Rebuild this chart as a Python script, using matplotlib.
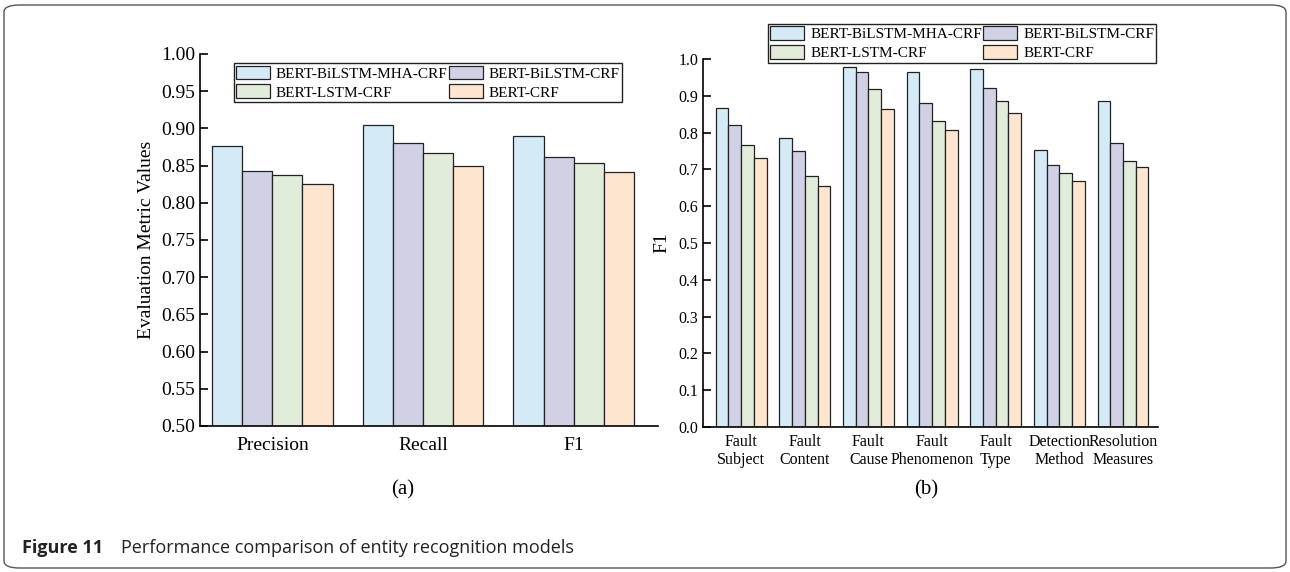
import numpy as np
import matplotlib.pyplot as plt
from matplotlib.patches import FancyBboxPatch

plt.rcParams['font.family'] = ['Liberation Serif', 'DejaVu Serif']

models = ["BERT-BiLSTM-MHA-CRF", "BERT-BiLSTM-CRF", "BERT-LSTM-CRF", "BERT-CRF"]
colors = ["#D4EAF7", "#D1D1E6", "#E1ECDA", "#FDE5CF"]

# (a) overall metrics
metrics = ["Precision", "Recall", "F1"]
mha_a = [0.876, 0.905, 0.890]
bilstm_a = [0.843, 0.881, 0.862]
lstm_a = [0.838, 0.867, 0.853]
crf_a = [0.825, 0.850, 0.842]

# (b) F1 per entity type
entities = ["Fault\nSubject", "Fault\nContent", "Fault\nCause", "Fault\nPhenomenon",
            "Fault\nType", "Detection\nMethod", "Resolution\nMeasures"]
mha_b = [0.866, 0.784, 0.977, 0.965, 0.974, 0.752, 0.887]
bilstm_b = [0.822, 0.749, 0.964, 0.881, 0.920, 0.713, 0.773]
lstm_b = [0.765, 0.682, 0.918, 0.832, 0.887, 0.691, 0.724]
crf_b = [0.732, 0.654, 0.863, 0.807, 0.852, 0.668, 0.706]

fig = plt.figure(figsize=(12.9, 5.72), dpi=100)

# rounded frame around the whole figure
frame = FancyBboxPatch((4 / 1290, 4 / 572), 1282 / 1290, 563 / 572,
                       boxstyle="round,pad=0,rounding_size=0.012",
                       transform=fig.transFigure, fill=False,
                       edgecolor="#555555", linewidth=1.0)
fig.patches.append(frame)


def grouped(ax, cats, series, w=0.2):
    x = np.arange(len(cats))
    bars = []
    for i, (vals, c, name) in enumerate(zip(series, colors, models)):
        b = ax.bar(x + (i - 1.5) * w, vals, w, color=c, edgecolor="#222222",
                   linewidth=0.9, label=name)
        bars.append(b)
    ax.set_xticks(x)
    ax.set_xticklabels(cats)
    ax.spines["top"].set_visible(False)
    ax.spines["right"].set_visible(False)
    ax.spines["left"].set_linewidth(1.2)
    ax.spines["bottom"].set_linewidth(1.2)
    ax.tick_params(axis="y", direction="in", length=6, width=1.2)
    ax.tick_params(axis="x", length=0)
    return bars


def add_legend(ax, bars, anchor):
    # row-wise order: MHA, BiLSTM / LSTM, CRF
    order = [0, 2, 1, 3]
    leg = ax.legend([bars[i] for i in order], [models[i] for i in order],
                    loc="upper left", bbox_to_anchor=anchor, ncol=2, fontsize=11,
                    frameon=True, fancybox=False, edgecolor="#222222", framealpha=1,
                    handlelength=2.2, handleheight=1.0, handletextpad=0.4,
                    columnspacing=0.1, labelspacing=0.25, borderpad=0.15,
                    borderaxespad=0)
    leg.get_frame().set_linewidth(1.0)


# left panel
ax1 = fig.add_axes([200 / 1290, 1 - 426 / 572, 458 / 1290, 372 / 572])
bars1 = grouped(ax1, metrics, [mha_a, bilstm_a, lstm_a, crf_a])
ax1.set_ylim(0.5, 1.0)
ax1.set_xlim(-0.48, 2.56)
ax1.set_yticks(np.arange(0.5, 1.001, 0.05))
ax1.set_yticklabels([f"{v:.2f}" for v in np.arange(0.5, 1.001, 0.05)])
ax1.tick_params(axis="y", labelsize=14)
ax1.tick_params(axis="x", labelsize=14, pad=8)
ax1.set_ylabel("Evaluation Metric Values", fontsize=14, labelpad=4)
add_legend(ax1, bars1, (0.074, 0.975))

# right panel
ax2 = fig.add_axes([703 / 1290, 1 - 427 / 572, 455 / 1290, 368 / 572])
bars2 = grouped(ax2, entities, [mha_b, bilstm_b, lstm_b, crf_b])
ax2.set_ylim(0, 1.0)
ax2.set_xlim(-0.6, 6.55)
ax2.set_yticks(np.arange(0, 1.01, 0.1))
ax2.set_yticklabels([f"{v:.1f}" for v in np.arange(0, 1.01, 0.1)])
ax2.tick_params(axis="y", labelsize=11.5)
ax2.tick_params(axis="x", labelsize=11.5, pad=5)
ax2.set_ylabel("F1", fontsize=14, labelpad=6)
add_legend(ax2, bars2, (0.143, 1.095))

# panel labels
fig.text(403 / 1290, 1 - 490 / 572, "(a)", fontsize=15, ha="center", va="center")
fig.text(926 / 1290, 1 - 490 / 572, "(b)", fontsize=15, ha="center", va="center")

# caption
fig.text(22 / 1290, 1 - 553 / 572, "Figure 11", fontsize=13, fontweight="bold",
         family="Open Sans", color="#222222", ha="left", va="baseline")
fig.text(121 / 1290, 1 - 553 / 572, "Performance comparison of entity recognition models",
         fontsize=13, family="Open Sans", color="#222222", ha="left", va="baseline")

fig.savefig("out.png", dpi=100)
